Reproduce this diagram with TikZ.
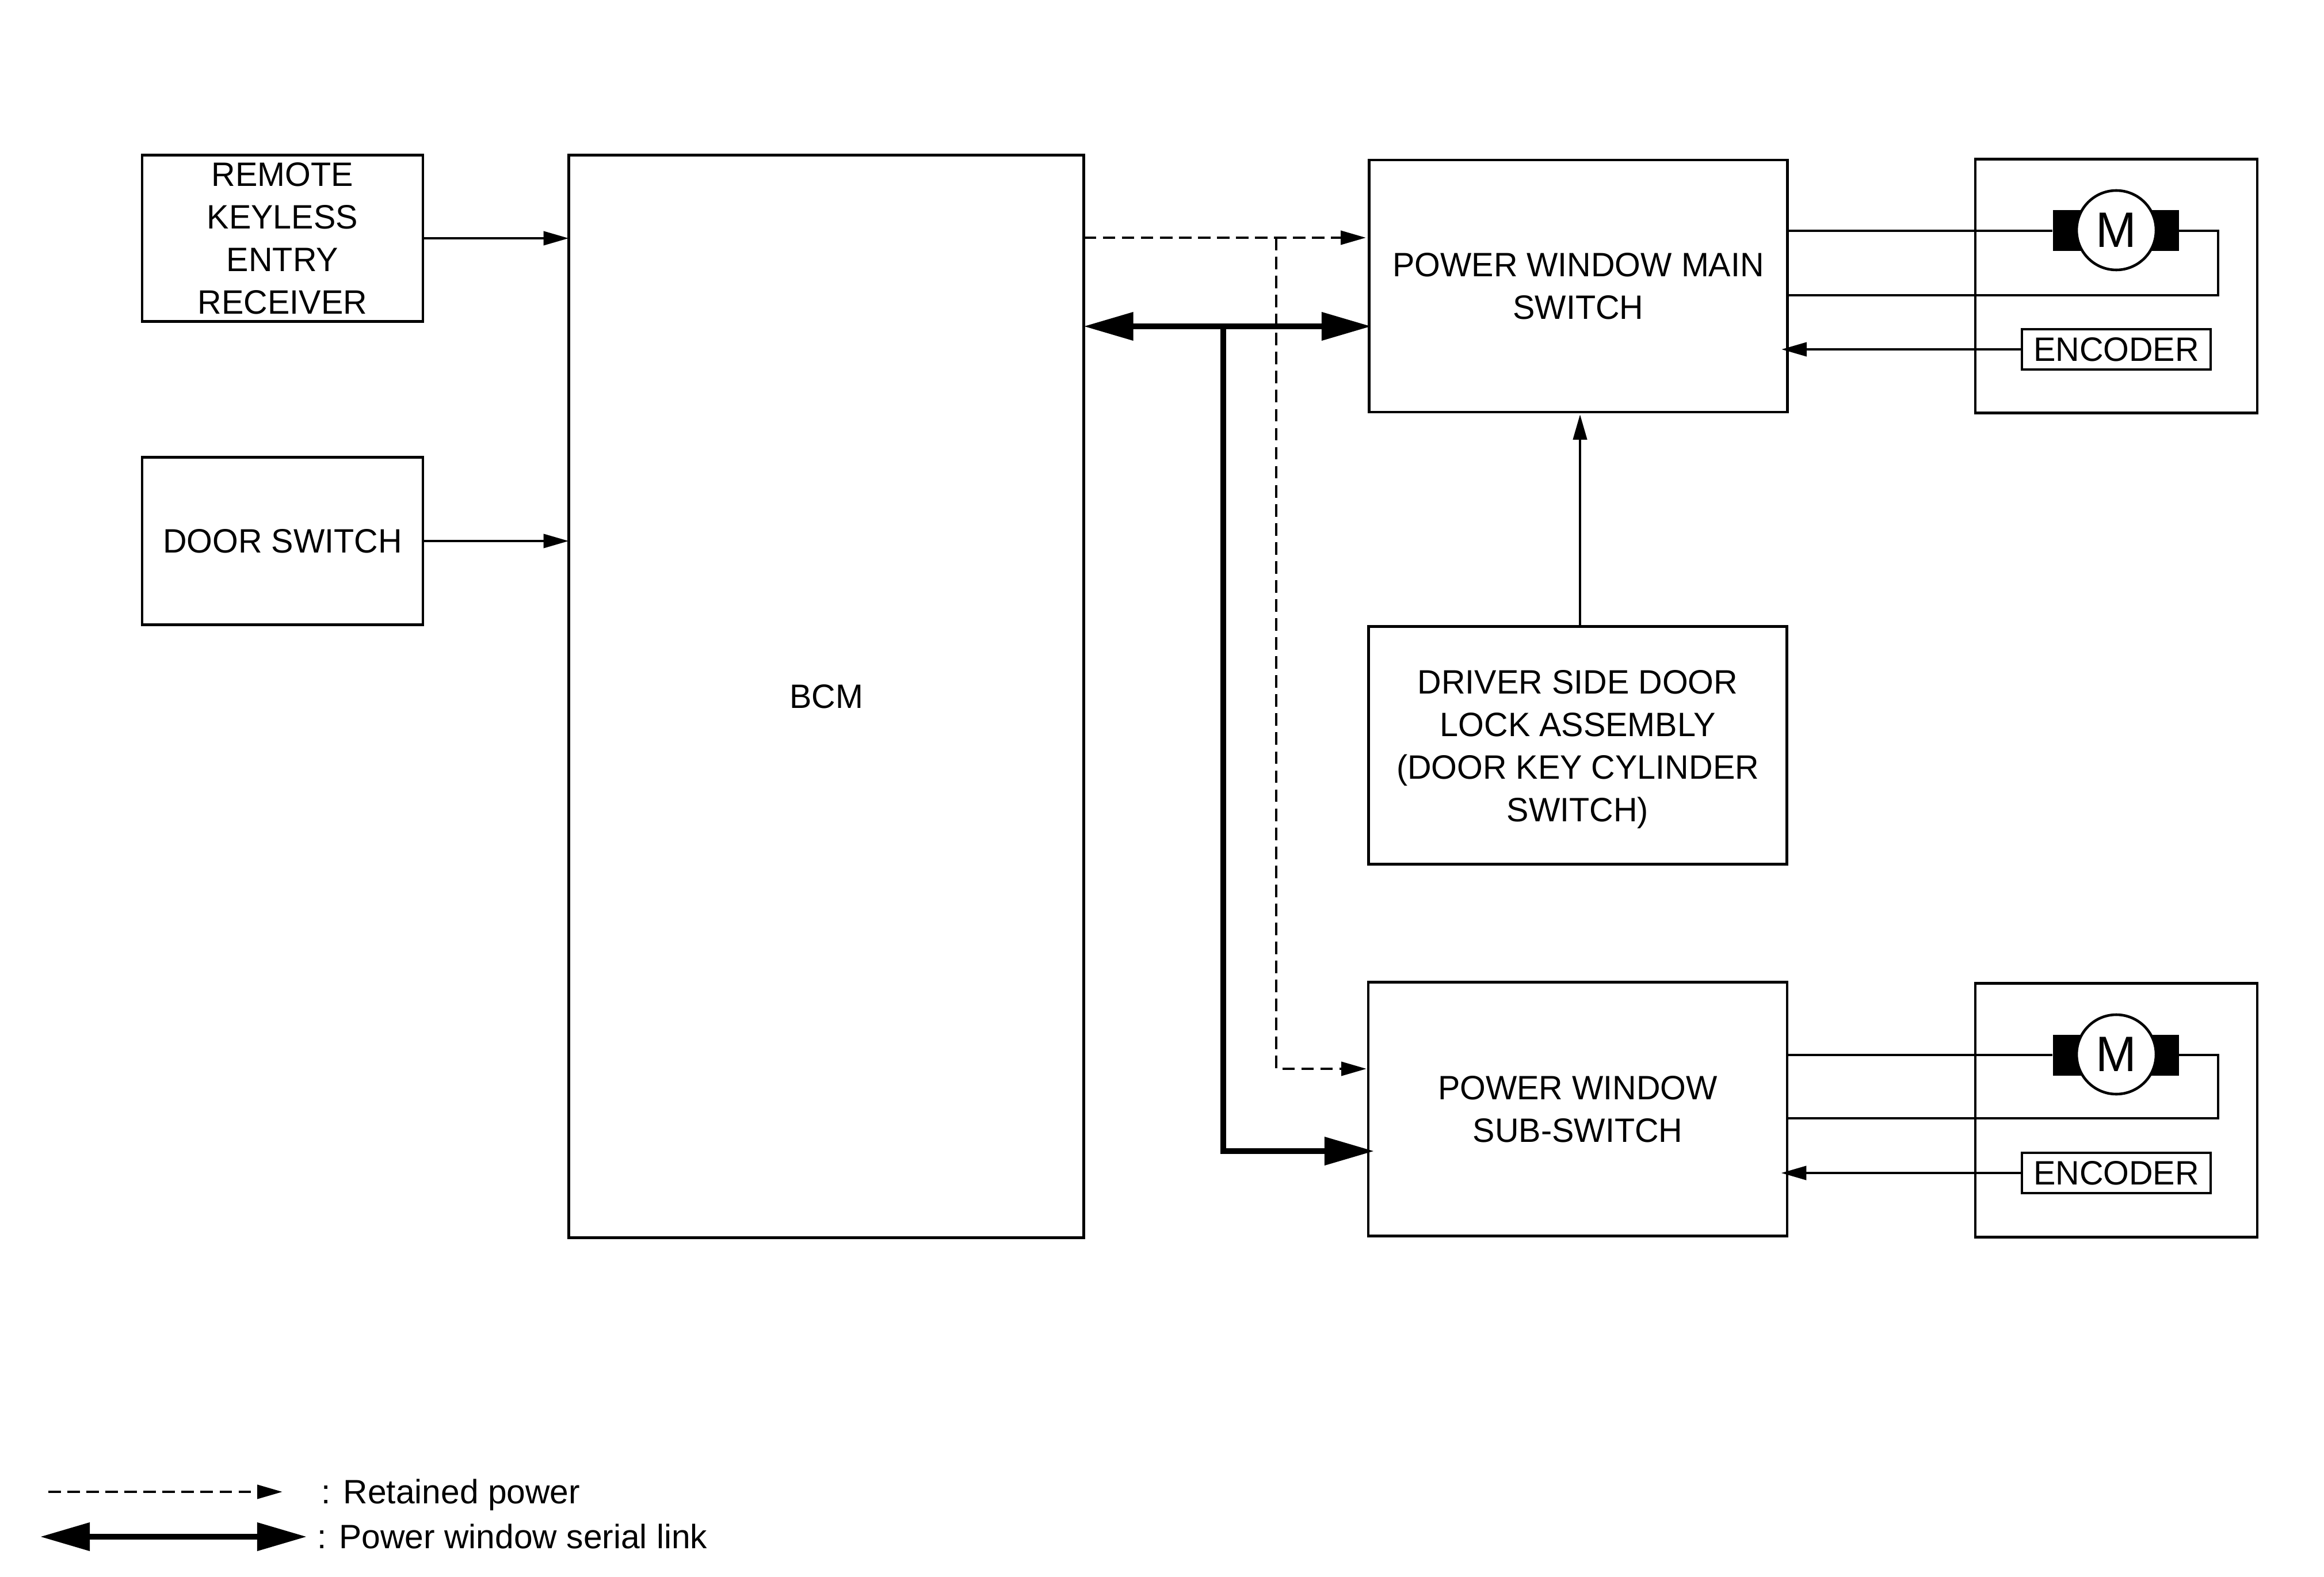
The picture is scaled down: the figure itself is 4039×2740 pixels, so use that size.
\documentclass[tikz,border=0pt]{standalone}
\usepackage{fontspec}
\setmainfont[FakeStretch=0.98]{Liberation Sans}
\newfontfamily\keyfont{Liberation Sans}
\usetikzlibrary{arrows.meta}
\tikzset{
  blockbox/.style={draw, line width=1.3pt, inner sep=0pt, outer sep=0pt, align=center},
  keytext/.style={anchor=base west, inner sep=0pt, font=\fontsize{16.7}{21.05}\selectfont\keyfont},
  wire/.style={line width=1.3pt},
  smallarrow/.style={wire, -{Triangle[length=12.5pt, width=6.8pt]}},
  dashline/.style={wire, dash pattern=on 6.2pt off 3.2pt},
  seriallink/.style={line width=2.6pt, -{Triangle[length=24.5pt, width=13.5pt]}},
}
\begin{document}
\begin{tikzpicture}[x=0.01cm, y=-0.01cm, font=\fontsize{16.7}{21.05}\selectfont]
\useasboundingbox (0,0) rectangle (4039,2740);
\node[blockbox, minimum width=488*0.01cm, minimum height=289*0.01cm] (remote) at (491,414) {REMOTE\\KEYLESS\\ENTRY\\RECEIVER};
\node[blockbox, minimum width=488*0.01cm, minimum height=291*0.01cm] (doorsw) at (491,940) {DOOR SWITCH};
\node[blockbox, minimum width=895*0.01cm, minimum height=1881*0.01cm] (bcm) at (1436,1210) {BCM};
\node[blockbox, minimum width=727*0.01cm, minimum height=438*0.01cm] (mainsw) at (2743,497) {POWER WINDOW MAIN\\SWITCH};
\node[blockbox, minimum width=727*0.01cm, minimum height=413*0.01cm] (driverlock) at (2742,1295) {\rule{0pt}{15.5pt}DRIVER SIDE DOOR\\LOCK ASSEMBLY\\(DOOR KEY CYLINDER\\SWITCH)};
\node[blockbox, minimum width=728*0.01cm, minimum height=441*0.01cm] (subsw) at (2742,1927) {POWER WINDOW\\SUB-SWITCH};
\node[blockbox, minimum width=490*0.01cm, minimum height=441*0.01cm] (mainunit) at (3678,497) {};
\node[blockbox, minimum width=490*0.01cm, minimum height=441*0.01cm] (subunit) at (3678,1929) {};
\node[fill=black, inner sep=0pt, minimum width=219*0.01cm, minimum height=71*0.01cm] (mainbrush) at (3677,401) {};
\node[fill=black, inner sep=0pt, minimum width=219*0.01cm, minimum height=71*0.01cm] (subbrush) at (3677,1833) {};
\node[blockbox, circle, fill=white, minimum size=138*0.01cm, font=\fontsize{24.6}{28}\selectfont] (mainmotor) at (3678,400) {M};
\node[blockbox, circle, fill=white, minimum size=138*0.01cm, font=\fontsize{24.6}{28}\selectfont] (submotor) at (3678,1832) {M};
\node[blockbox, minimum width=328*0.01cm, minimum height=70*0.01cm] (mainenc) at (3678,607) {ENCODER};
\node[blockbox, minimum width=328*0.01cm, minimum height=70*0.01cm] (subenc) at (3678,2038) {ENCODER};
\draw[smallarrow] (remote.east) -- (remote.east -| bcm.west);
\draw[smallarrow] (doorsw.east) -- (doorsw.east -| bcm.west);
\coordinate (retaintop) at (2218,413);
\coordinate (retainend) at (2374,413);
\coordinate (retainsub) at (2375,1857);
\draw[dashline, -{Triangle[length=12.5pt, width=6.8pt]}] (bcm.east |- retaintop) -- (retainend);
\draw[dashline, -{Triangle[length=12.5pt, width=6.8pt]}] (retaintop) |- (retainsub);
\coordinate (serialtop) at (2126,567);
\coordinate (serialmain) at (2383,567);
\coordinate (serialsub) at (2388,2000);
\draw[seriallink, {Triangle[length=24.5pt, width=13.5pt]}-{Triangle[length=24.5pt, width=13.5pt]}] (bcm.east |- serialtop) -- (serialmain);
\draw[seriallink] (serialtop) |- (serialsub);
\draw[smallarrow] (driverlock.north -| 2746,0) -- (2746,720);
\coordinate (mainturn) at (3855,401);
\coordinate (mainback) at (3855,513);
\draw[wire] (mainsw.east |- mainbrush.west) -- (mainbrush.west);
\draw[wire] (mainbrush.east) -- (mainturn) -- (mainback) -- (mainback -| mainsw.east);
\draw[smallarrow, shorten >=-3pt] (mainenc.west) -- (mainenc.west -| mainsw.east);
\coordinate (subturn) at (3855,1833);
\coordinate (subback) at (3855,1943);
\draw[wire] (subsw.east |- subbrush.west) -- (subbrush.west);
\draw[wire] (subbrush.east) -- (subturn) -- (subback) -- (subback -| subsw.east);
\draw[smallarrow, shorten >=-3pt] (subenc.west) -- (subenc.west -| subsw.east);
\coordinate (keyretainl) at (84,2592);
\coordinate (keyretainr) at (491,2592);
\coordinate (keyseriall) at (70,2670);
\coordinate (keyserialr) at (533,2670);
\draw[dashline, -{Triangle[length=12.5pt, width=6.8pt]}] (keyretainl) -- (keyretainr);
\draw[seriallink, {Triangle[length=24.5pt, width=13.5pt]}-{Triangle[length=24.5pt, width=13.5pt]}] (keyseriall) -- (keyserialr);
\node[keytext] (keyretaintext) at (558,2612) {: Retained power};
\node[keytext] (keyserialtext) at (551,2690) {: Power window serial link};
\end{tikzpicture}
\end{document}
